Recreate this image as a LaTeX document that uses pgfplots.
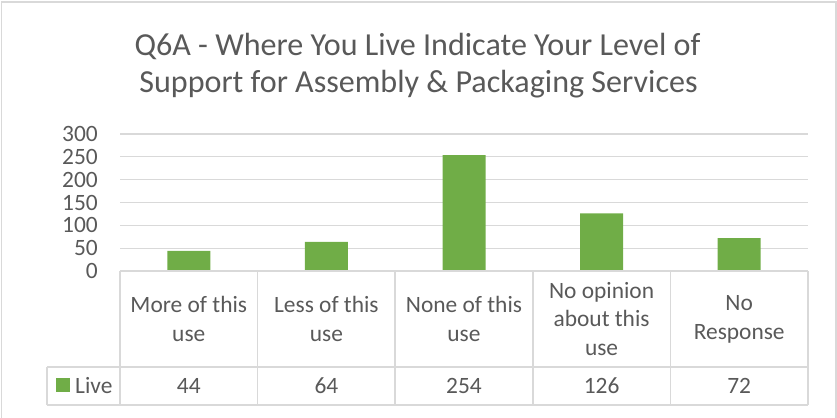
\documentclass[border=0pt]{standalone}
\usepackage{pgfplots}
\pgfplotsset{compat=1.18}
\usepackage{fontspec}
\setmainfont{Carlito}
\definecolor{bargreen}{HTML}{70AD47}
\definecolor{gridgray}{HTML}{D9D9D9}
\definecolor{txtgray}{HTML}{595959}
\newcommand{\tabfont}{\fontsize{23.5}{29}\selectfont}
\begin{document}
\begin{tikzpicture}[x=1bp,y=1bp]
\useasboundingbox (0,0) rectangle (837,417);
% outer chart border
\draw[gridgray, line width=1.5bp] (1.5,-2) -- (1.5,415.2) -- (835.8,415.2) -- (835.8,-2);
% title
\node[anchor=base, text=txtgray, font=\fontsize{32.2}{38}\selectfont, inner sep=0pt] at (417.5,362) {Q6A - Where You Live Indicate Your Level of};
\node[anchor=base, text=txtgray, font=\fontsize{32.2}{38}\selectfont, inner sep=0pt] at (418.5,325) {Support for Assembly \& Packaging Services};
\begin{axis}[
  at={(120bp,146bp)}, anchor=south west,
  scale only axis, width=688bp, height=137bp,
  xmin=-0.5, xmax=4.5, ymin=0, ymax=300,
  ytick={0,50,...,300},
  xtick=\empty,
  axis line style={draw=none},
  ymajorgrids, major grid style={gridgray, line width=1.3bp},
  major tick length=0pt,
  yticklabel style={font=\tabfont, text=txtgray, anchor=east, inner sep=0pt, xshift=-22bp},
  /pgf/number format/assume math mode=true,
  ybar, bar width=43bp,
  clip=false,
]
\addplot[fill=bargreen, draw=none] coordinates {(0,44) (1,64) (2,254) (3,126) (4,72)};
\end{axis}
% data table
\begin{scope}[gridgray, line width=1.5bp]
\draw (120,146) -- (808,146);
\draw (47,50) -- (808,50);
\draw (47,12) -- (808,12);
\draw (47,12) -- (47,50);
\foreach \xx in {120,257.6,395.2,532.8,670.4,808} {\draw (\xx,12) -- (\xx,146);}
\end{scope}
\begin{scope}[every node/.style={text=txtgray, font=\tabfont, align=center, inner sep=0pt}]
\node at (188.8,98) {More of this\\use};
\node at (326.4,98) {Less of this\\use};
\node at (464,98) {None of this\\use};
\node at (601.6,98) {No opinion\\about this\\use};
\node at (739.2,98) {No\\Response};
\node at (188.8,31) {44};
\node at (326.4,31) {64};
\node at (464,31) {254};
\node at (601.6,31) {126};
\node at (739.2,31) {72};
\fill[bargreen] (56,25) rectangle (70,39);
\node[anchor=west] at (75,31) {Live};
\end{scope}
\end{tikzpicture}
\end{document}
